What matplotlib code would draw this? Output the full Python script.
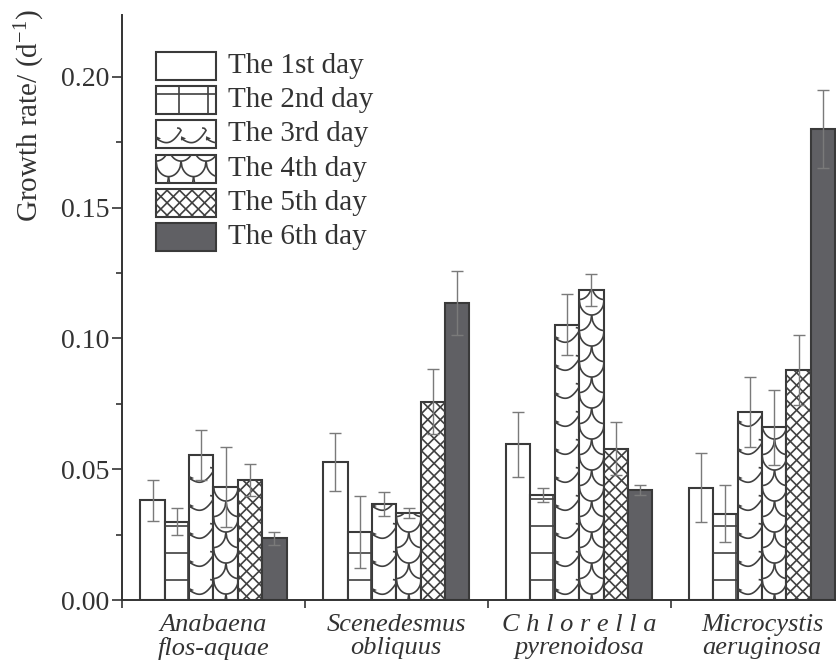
import matplotlib
matplotlib.use("Agg")
import matplotlib.pyplot as plt
import numpy as np
from matplotlib.patches import Rectangle, Polygon
from matplotlib.collections import LineCollection, PatchCollection

plt.rcParams["font.family"] = ["Liberation Serif", "DejaVu Serif"]
plt.rcParams["mathtext.fontset"] = "custom"
plt.rcParams["mathtext.rm"] = "Liberation Serif"
plt.rcParams["mathtext.it"] = "Liberation Serif:italic"

species = ["Anabaena\nflos-aquae", "Scenedesmus\nobliquus",
           "C h l o r e l l a\npyrenoidosa", "Microcystis\naeruginosa"]
day_labels = ["The 1st day", "The 2nd day", "The 3rd day",
              "The 4th day", "The 5th day", "The 6th day"]

# growth rate (d^-1) per species, one list per day
rate_day1 = [0.0382, 0.0528, 0.0595, 0.0429]
rate_day2 = [0.0300, 0.0260, 0.0402, 0.0330]
rate_day3 = [0.0555, 0.0367, 0.1052, 0.0719]
rate_day4 = [0.0432, 0.0333, 0.1185, 0.0660]
rate_day5 = [0.0459, 0.0758, 0.0579, 0.0878]
rate_day6 = [0.0237, 0.1137, 0.0421, 0.1802]

# standard deviations
sd_day1 = [0.0078, 0.0112, 0.0123, 0.0132]
sd_day2 = [0.0050, 0.0138, 0.0028, 0.0110]
sd_day3 = [0.0097, 0.0045, 0.0117, 0.0135]
sd_day4 = [0.0152, 0.0020, 0.0060, 0.0142]
sd_day5 = [0.0062, 0.0124, 0.0100, 0.0134]
sd_day6 = [0.0025, 0.0122, 0.0019, 0.0150]

rates = [rate_day1, rate_day2, rate_day3, rate_day4, rate_day5, rate_day6]
sds = [sd_day1, sd_day2, sd_day3, sd_day4, sd_day5, sd_day6]
patterns = [None, "grid", "wave", "scale", "cross", None]
faces = ["white"] * 5 + ["#606064"]

EDGE = "#3a3a3a"
HATCH = "#404040"
TEXT = "#333333"


def pattern_shapes(kind, x0, y0, x1, y1):
    """Polylines and small filled triangles (display pixels) for one box."""
    lines, tris = [], []
    if kind == "grid":
        y = y0 + 20
        while y < y1:
            lines.append([(x0, y), (x1, y)])
            y += 27
        x = x0 + 23
        while x < x1:
            lines.append([(x, y0), (x, y1)])
            x += 29
    elif kind == "wave":
        P = 25.0
        t = np.linspace(0, 1, 25)
        y = y0 + 10
        while y < y1 + 12:
            x = x0
            while x < x1:
                xs = x + t * P
                ys = y - 5 * np.sin(np.pi * t) + 8 * t ** 3
                pts = list(zip(xs, ys)) + [(x + P - 1.5, y + 10), (x + P - 4, y + 10.5)]
                lines.append(pts)
                tris.append([(x, y + 2.2), (x, y - 2.2), (x + 5, y)])
                x += P
            y += 28
    elif kind == "scale":
        P = 25.0
        R = P / 2
        row = 15.5
        u = np.linspace(-R, R, 30)
        k = 0
        y = y0 + 6
        while y < y1 + row:
            xc = x0 + (k % 2) * R - P
            while xc < x1 + P:
                ys = y - row * np.sqrt(np.clip(1 - (u / R) ** 2, 0, 1))
                lines.append(list(zip(xc + u, ys)))
                xc += P
            y += row
            k += 1
    elif kind == "cross":
        s = 12.5
        h = y1 - y0
        for c in np.arange(x0 - h - s, x1 + s, s):
            lines.append([(c, y0), (c + h, y1)])
        for c in np.arange(x0 - s, x1 + h + s, s):
            lines.append([(c, y0), (c - h, y1)])
    return lines, tris


def fill_pattern(ax, patch, kind):
    if kind is None:
        return
    to_px = ax.transData
    to_data = ax.transData.inverted()
    x, y = patch.get_xy()
    (px0, py0), (px1, py1) = to_px.transform([(x, y), (x + patch.get_width(), y + patch.get_height())])
    lines, tris = pattern_shapes(kind, min(px0, px1), min(py0, py1), max(px0, px1), max(py0, py1))
    segs = [to_data.transform(np.asarray(l, float)) for l in lines]
    lc = LineCollection(segs, colors=HATCH, linewidths=1.2, zorder=patch.get_zorder() + 0.1)
    ax.add_collection(lc)
    lc.set_clip_path(patch)
    if tris:
        pc = PatchCollection([Polygon(to_data.transform(np.asarray(t, float))) for t in tris],
                             facecolor=HATCH, edgecolor="none", zorder=patch.get_zorder() + 0.1)
        ax.add_collection(pc)
        pc.set_clip_path(patch)


fig = plt.figure(figsize=(8.37, 6.69), dpi=100)
ax = fig.add_axes([0.1458, 0.1031, 0.8542, 0.8745])
ax.set_xlim(-0.5, 3.41)
ax.set_ylim(0, 0.2237)

x = np.arange(len(species))
width = 0.1333
for i, (vals, err) in enumerate(zip(rates, sds)):
    pos = x + (i - 2.5) * width
    bars = ax.bar(pos, vals, width, color=faces[i], edgecolor=EDGE, linewidth=1.5, zorder=2)
    for b in bars:
        fill_pattern(ax, b, patterns[i])
    ax.errorbar(pos, vals, yerr=err, fmt="none", ecolor="#7a7a7a", elinewidth=1.0,
                capsize=4.5, capthick=1.0, zorder=4)

# hand-made legend so the custom fill patterns show up in the keys
for i, lab in enumerate(day_labels):
    top = 0.9368 - i * 0.05846
    (bx0, by0), (bx1, by1) = ax.transData.inverted().transform(
        ax.transAxes.transform([(0.0476, top - 0.0479), (0.0476 + 0.084, top)]))
    box = Rectangle((bx0, by0), bx1 - bx0, by1 - by0, facecolor=faces[i],
                    edgecolor=EDGE, linewidth=1.5, zorder=5)
    ax.add_patch(box)
    fill_pattern(ax, box, patterns[i])
    ax.text(0.148, top - 0.0479 / 2, lab, transform=ax.transAxes, fontsize=21,
            color=TEXT, va="center", ha="left", zorder=6)

for side in ("top", "right"):
    ax.spines[side].set_visible(False)
for side in ("left", "bottom"):
    ax.spines[side].set_linewidth(1.4)
    ax.spines[side].set_color(TEXT)

ax.set_yticks([0.0, 0.05, 0.10, 0.15, 0.20])
ax.set_yticklabels(["0.00", "0.05", "0.10", "0.15", "0.20"])
ax.set_yticks(np.arange(0.025, 0.22, 0.05), minor=True)
ax.tick_params(axis="y", which="major", direction="out", length=7, width=1.2,
               colors=TEXT, labelsize=20, pad=2)
ax.tick_params(axis="y", which="minor", direction="out", length=4, width=1.2, colors=TEXT)

ax.set_xticks([-0.5, 0.5, 1.5, 2.5])
ax.set_xticklabels([])
ax.set_xticks(x, minor=True)
ax.set_xticklabels(species, minor=True, fontstyle="italic", fontsize=19, color=TEXT,
                   linespacing=1.05)
ax.tick_params(axis="x", which="major", direction="out", length=6, width=1.2, colors=TEXT)
ax.tick_params(axis="x", which="minor", length=0, pad=10)

fig.text(30 / 837, 1 - 116 / 669, r"Growth rate/ (d$^{-1}$)", rotation=90,
         fontsize=21, color=TEXT, ha="center", va="center")

fig.savefig("out.png", dpi=100)
